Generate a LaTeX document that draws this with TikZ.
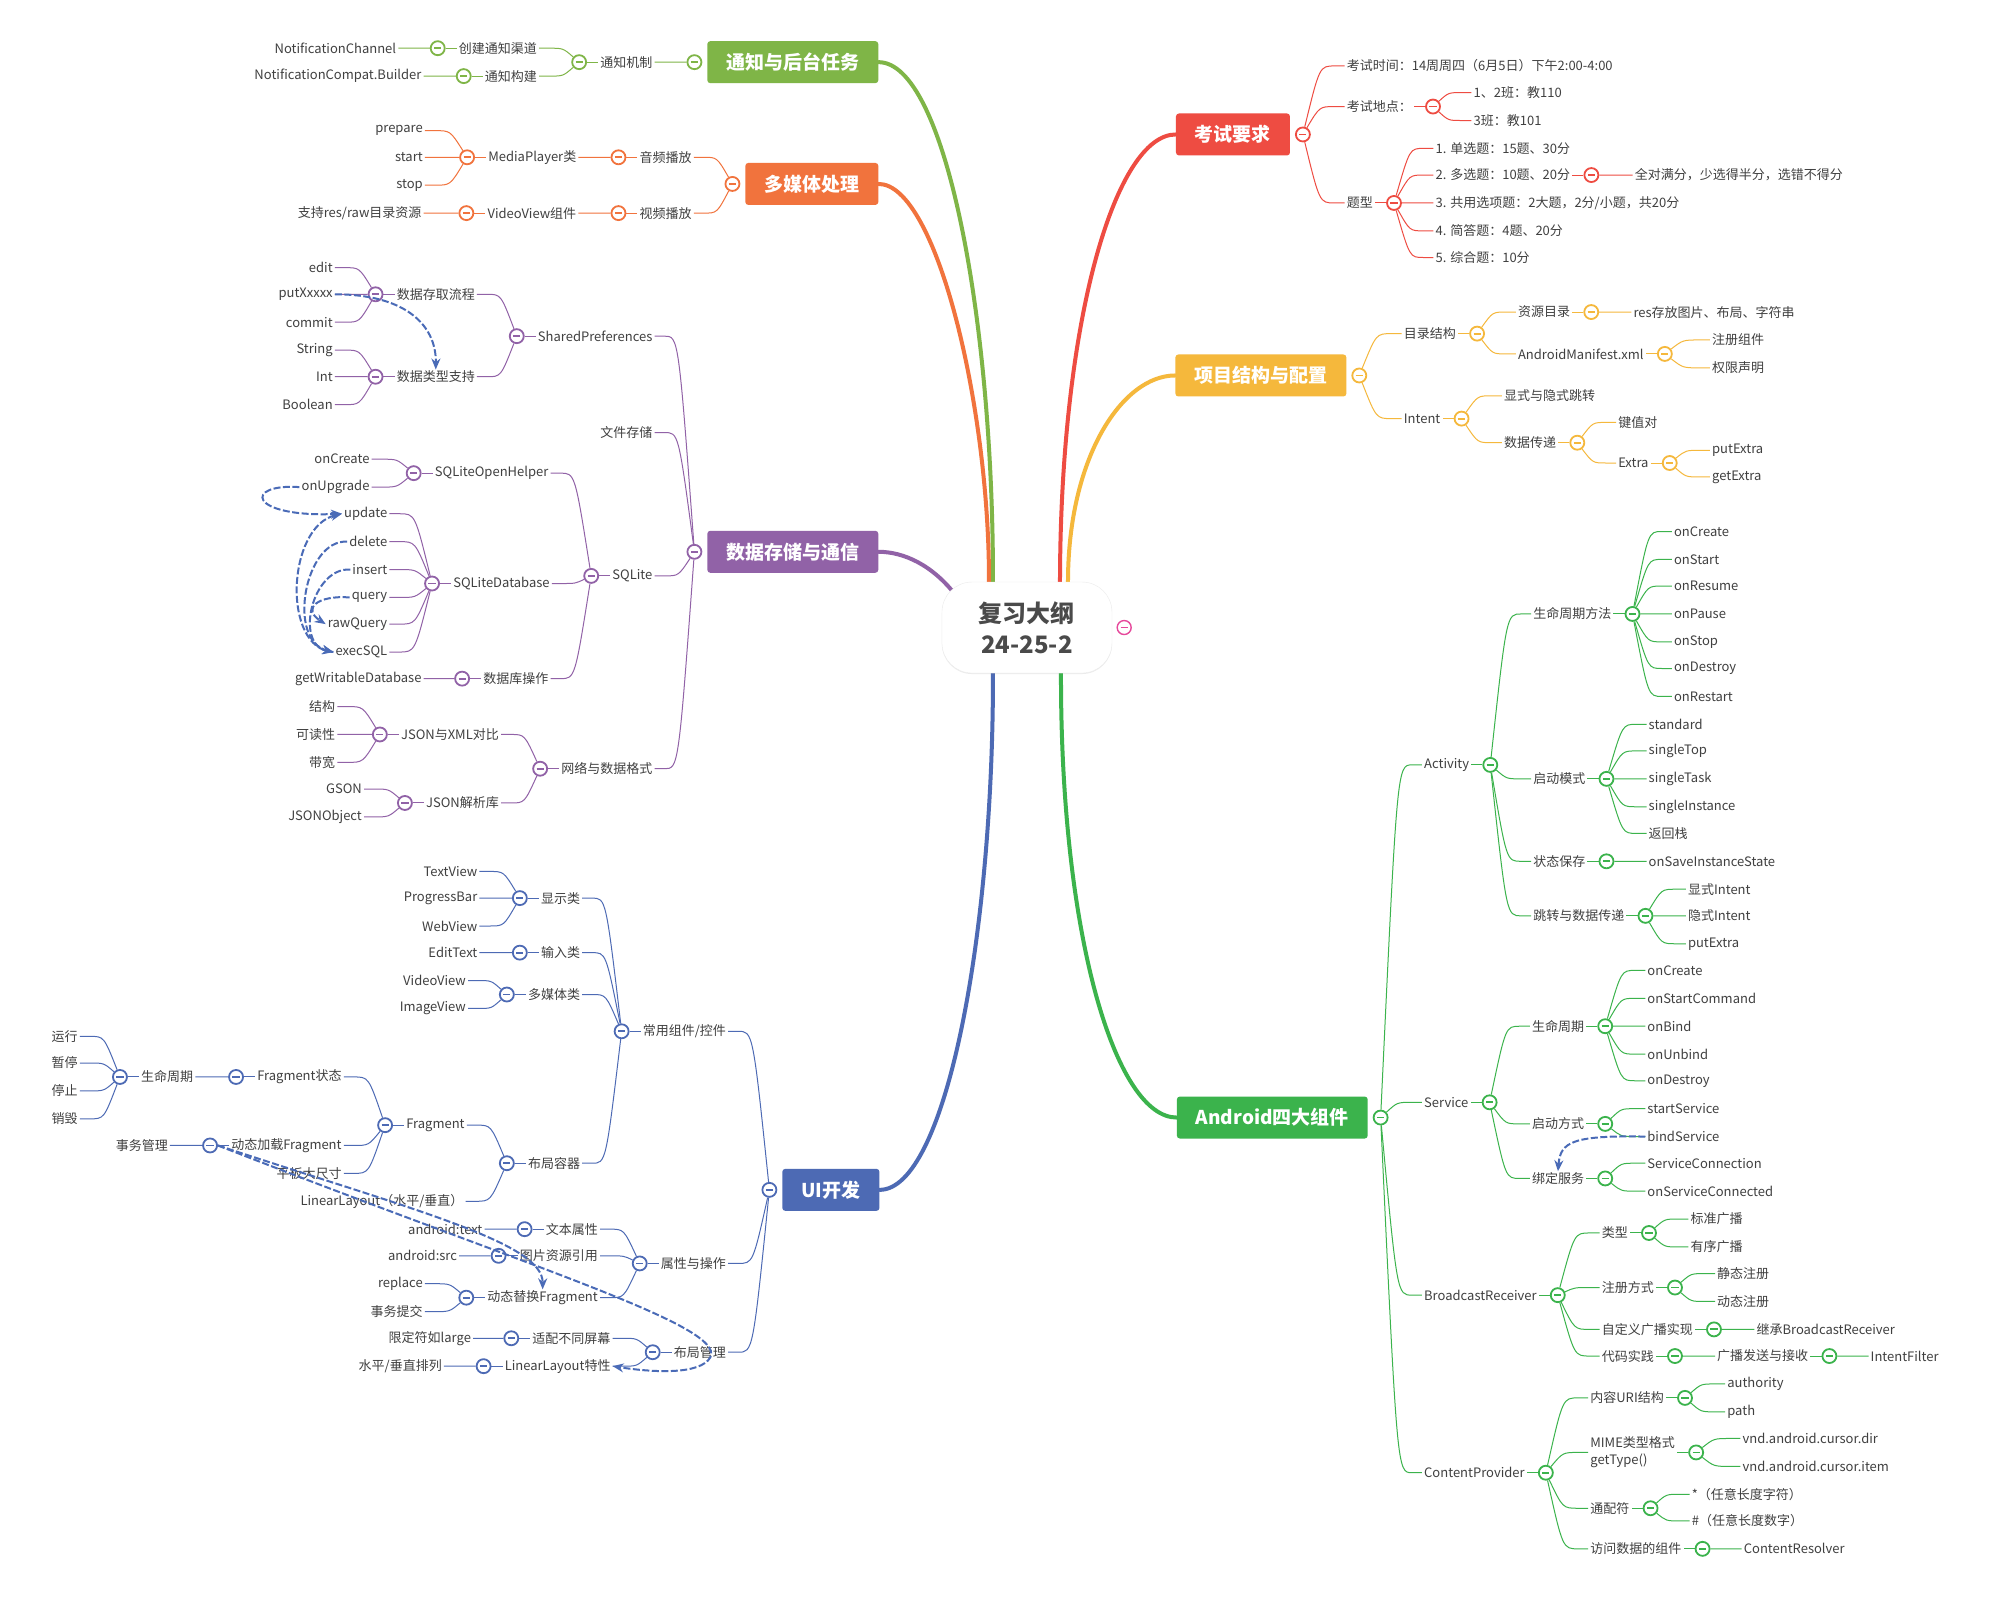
\documentclass[tikz,border=0pt]{standalone}
\usepackage{fontspec}
\setmainfont{Noto Sans CJK SC}
\usetikzlibrary{arrows.meta, backgrounds, shadows, calc}

\definecolor{colTexto}{HTML}{404040}
\definecolor{colCentro}{HTML}{4A4A4A}
\definecolor{colNotif}{HTML}{7FB547}
\definecolor{colMedia}{HTML}{F1733D}
\definecolor{colDatos}{HTML}{9162A7}
\definecolor{colUI}{HTML}{4D6AB4}
\definecolor{colExamen}{HTML}{EE4C42}
\definecolor{colProyecto}{HTML}{F5B83C}
\definecolor{colAndroid}{HTML}{3BB34C}
\definecolor{colRel}{HTML}{4A6BB7}
\definecolor{colRosa}{HTML}{E6489B}

\tikzset{
  hoja/.style={font=\fontsize{13}{17}\selectfont, text=colTexto,
    inner xsep=2pt, inner ysep=1pt},
  textoI/.style={hoja, anchor=east, align=right},
  textoD/.style={hoja, anchor=west, align=left},
  cajaTema/.style={rounded corners=3pt, minimum height=42pt, inner xsep=19pt,
    text=white, font=\fontsize{19}{21}\selectfont\bfseries},
  cajaCentro/.style={draw=black!8, fill=white, rounded corners=30pt,
    minimum width=170pt, minimum height=91pt, align=center, text=colCentro,
    font=\fontsize{24}{31}\selectfont\bfseries,
    drop shadow={shadow xshift=0pt, shadow yshift=-1pt, opacity=0.15}},
  boton/.style={circle, draw=#1, fill=white, line width=1.8pt,
    minimum size=14pt, inner sep=0pt,
    path picture={\draw[#1, line width=1.8pt]
      ([xshift=-3.6pt]path picture bounding box.center) --
      ([xshift=3.6pt]path picture bounding box.center);}},
  liga/.style={line width=1pt},
  troncal/.style={line width=4pt, line cap=round},
  flechaRel/.style={-{Stealth[length=11pt, width=9pt]}, line width=2pt,
    colRel, dash pattern=on 7pt off 2.5pt},
}

% ligas de un boton a un hijo (izquierda / derecha)
\newcommand{\ligaI}[3]{\scoped[on background layer]\draw[liga, #1] (#2)
  .. controls ($(#2 |- #3.east)!0.4!(#3.east)$) .. ([xshift=10pt]#3.east) -- (#3.east);}
\newcommand{\ligaD}[3]{\scoped[on background layer]\draw[liga, #1] (#2)
  .. controls ($(#2 |- #3.west)!0.4!(#3.west)$) .. ([xshift=-10pt]#3.west) -- (#3.west);}
% hoja: color, padre, nombre, x, y, texto
\newcommand{\hojaI}[6]{\node[textoI] (#3) at (#4,#5) {#6}; \ligaI{#1}{#2C}{#3}}
\newcommand{\hojaD}[6]{\node[textoD] (#3) at (#4,#5) {#6}; \ligaD{#1}{#2C}{#3}}
% rama: hoja con boton
\newcommand{\ramaI}[6]{\hojaI{#1}{#2}{#3}{#4}{#5}{#6}
  \node[boton=#1, xshift=-19pt] (#3C) at (#3.west) {};
  \scoped[on background layer]\draw[liga, #1] (#3C) -- (#3.west);}
\newcommand{\ramaD}[6]{\hojaD{#1}{#2}{#3}{#4}{#5}{#6}
  \node[boton=#1, xshift=19pt] (#3C) at (#3.east) {};
  \scoped[on background layer]\draw[liga, #1] (#3C) -- (#3.east);}

\begin{document}
\begin{tikzpicture}[x=1.2685pt, y=-1.2685pt]
  \useasboundingbox (0,0) rectangle (1568,1260);
  \scoped[on background layer]\fill[white] (0,0) rectangle (1568,1260);

  % centro
  \node[cajaCentro] (centro) at (809.6,494.7) {复习大纲\\24-25-2};
  \node[boton=colRosa, line width=1.4pt] (centroC) at ([xshift=12pt]centro.east) {};
  \coordinate (salidaDatos) at (754,470);

  % temas principales
  \node[cajaTema, fill=colNotif]    (notif)    at (625,49)  {通知与后台任务};
  \node[cajaTema, fill=colMedia]    (media)    at (640,145) {多媒体处理};
  \node[cajaTema, fill=colDatos]    (datos)    at (625,435) {数据存储与通信};
  \node[cajaTema, fill=colUI]       (ui)       at (655,938) {UI开发};
  \node[cajaTema, fill=colExamen]   (examen)   at (972,106) {考试要求};
  \node[cajaTema, fill=colProyecto] (proyecto) at (994,296) {项目结构与配置};
  \node[cajaTema, fill=colAndroid]  (android)  at (1003,881) {Android四大组件};

  \foreach \n/\col in {notif/colNotif, media/colMedia, datos/colDatos, ui/colUI}
    \node[boton=\col, xshift=-12.7pt] (\n C) at (\n.west) {};
  \foreach \n/\col in {examen/colExamen, proyecto/colProyecto, android/colAndroid}
    \node[boton=\col, xshift=12.7pt] (\n C) at (\n.east) {};

  \begin{scope}[on background layer]
    \draw[troncal, colNotif] ([xshift=-34pt]centro.north)
      .. controls (783,250) and (745,49) .. (notif.east);
    \draw[troncal, colMedia] ([xshift=-38pt]centro.north)
      .. controls (780,320) and (738,145) .. (media.east);
    \draw[troncal, colDatos] (salidaDatos)
      .. controls (735,445) and (712,435) .. (datos.east);
    \draw[troncal, colUI] ([xshift=-34pt]centro.south)
      .. controls (783,740) and (745,938) .. (ui.east);
    \draw[troncal, colExamen] ([xshift=33pt]centro.north)
      .. controls (836,250) and (880,106) .. (examen.west);
    \draw[troncal, colProyecto] ([xshift=41pt]centro.north)
      .. controls (842,360) and (885,296) .. (proyecto.west);
    \draw[troncal, colAndroid] ([xshift=34pt]centro.south)
      .. controls (836,740) and (880,881) .. (android.west);
  \end{scope}

  % ---- 通知与后台任务
  \ramaI{colNotif}{notif}{mec}{516}{49}{通知机制}
  \ramaI{colNotif}{mec}{canal}{425}{38}{创建通知渠道}
  \hojaI{colNotif}{canal}{canalK}{314}{38}{NotificationChannel}
  \ramaI{colNotif}{mec}{constr}{425}{60}{通知构建}
  \hojaI{colNotif}{constr}{constrK}{334}{60}{NotificationCompat.Builder}

  % ---- 多媒体处理
  \ramaI{colMedia}{media}{audio}{547}{124}{音频播放}
  \ramaI{colMedia}{audio}{player}{456}{124}{MediaPlayer类}
  \foreach \y/\t in {103/prepare, 124/start, 146/stop}
    {\hojaI{colMedia}{player}{player\y}{335}{\y}{\t}}
  \ramaI{colMedia}{media}{video}{547}{168}{视频播放}
  \ramaI{colMedia}{video}{vview}{456}{168}{VideoView组件}
  \hojaI{colMedia}{vview}{vviewK}{334}{168}{支持res/raw目录资源}

  % ---- 数据存储与通信
  \ramaI{colDatos}{datos}{shared}{516}{265}{SharedPreferences}
  \ramaI{colDatos}{shared}{flujo}{376}{232}{数据存取流程}
  \foreach \y/\t in {211/edit, 232/putXxxxx, 254/commit}
    {\hojaI{colDatos}{flujo}{flujo\y}{264}{\y}{\t}}
  \ramaI{colDatos}{shared}{tipos}{376}{297}{数据类型支持}
  \foreach \y/\t in {276/String, 297/Int, 319/Boolean}
    {\hojaI{colDatos}{tipos}{tipos\y}{264}{\y}{\t}}
  \hojaI{colDatos}{datos}{archivo}{516}{341}{文件存储}
  \ramaI{colDatos}{datos}{sqlite}{516}{454}{SQLite}
  \ramaI{colDatos}{sqlite}{helper}{434}{373}{SQLiteOpenHelper}
  \foreach \y/\t in {362/onCreate, 384/onUpgrade}
    {\hojaI{colDatos}{helper}{helper\y}{293}{\y}{\t}}
  \ramaI{colDatos}{sqlite}{sqldb}{435}{460}{SQLiteDatabase}
  \foreach \y/\t in {405/update, 427/delete, 449/insert, 471/query, 492/rawQuery, 514/execSQL}
    {\hojaI{colDatos}{sqldb}{sqldb\y}{307}{\y}{\t}}
  \ramaI{colDatos}{sqlite}{dbop}{434}{535}{数据库操作}
  \hojaI{colDatos}{dbop}{dbopK}{334}{535}{getWritableDatabase}
  \ramaI{colDatos}{datos}{redes}{516}{606}{网络与数据格式}
  \ramaI{colDatos}{redes}{jsonxml}{395}{579}{JSON与XML对比}
  \foreach \y/\t in {557/结构, 579/可读性, 601/带宽}
    {\hojaI{colDatos}{jsonxml}{jsonxml\y}{266}{\y}{\t}}
  \ramaI{colDatos}{redes}{jsonlib}{395}{633}{JSON解析库}
  \foreach \y/\t in {622/GSON, 644/JSONObject}
    {\hojaI{colDatos}{jsonlib}{jsonlib\y}{287}{\y}{\t}}

  % ---- UI开发
  \ramaI{colUI}{ui}{comp}{574}{813}{常用组件/控件}
  \ramaI{colUI}{comp}{mostrar}{459}{708}{显示类}
  \foreach \y/\t in {687/TextView, 708/ProgressBar, 730/WebView}
    {\hojaI{colUI}{mostrar}{mostrar\y}{378}{\y}{\t}}
  \ramaI{colUI}{comp}{entrada}{459}{751}{输入类}
  \hojaI{colUI}{entrada}{entradaK}{378}{751}{EditText}
  \ramaI{colUI}{comp}{multi}{459}{784}{多媒体类}
  \foreach \y/\t in {773/VideoView, 795/ImageView}
    {\hojaI{colUI}{multi}{multi\y}{369}{\y}{\t}}
  \ramaI{colUI}{comp}{contenedor}{459}{917}{布局容器}
  \ramaI{colUI}{contenedor}{frag}{368}{887}{Fragment}
  \ramaI{colUI}{frag}{fragEstado}{271}{849}{Fragment状态}
  \ramaI{colUI}{fragEstado}{cicloFrag}{154}{849}{生命周期}
  \foreach \y/\t in {817/运行, 838/暂停, 860/停止, 882/销毁}
    {\hojaI{colUI}{cicloFrag}{cicloFrag\y}{63}{\y}{\t}}
  \ramaI{colUI}{frag}{fragDin}{271}{903}{动态加载Fragment}
  \hojaI{colUI}{fragDin}{fragDinK}{134}{903}{事务管理}
  \hojaI{colUI}{frag}{tableta}{271}{925}{平板大尺寸}
  \hojaI{colUI}{contenedor}{linear}{367}{947}{LinearLayout（水平/垂直）}
  \ramaI{colUI}{ui}{attr}{574}{996}{属性与操作}
  \ramaI{colUI}{attr}{txtAttr}{473}{969}{文本属性}
  \hojaI{colUI}{txtAttr}{txtAttrK}{382}{969}{android:text}
  \ramaI{colUI}{attr}{imgRef}{473}{990}{图片资源引用}
  \hojaI{colUI}{imgRef}{imgRefK}{362}{990}{android:src}
  \ramaI{colUI}{attr}{reemplazo}{473}{1023}{动态替换Fragment}
  \foreach \y/\t in {1012/replace, 1034/事务提交}
    {\hojaI{colUI}{reemplazo}{reemplazo\y}{335}{\y}{\t}}
  \ramaI{colUI}{ui}{gestion}{574}{1066}{布局管理}
  \ramaI{colUI}{gestion}{pantallas}{483}{1055}{适配不同屏幕}
  \hojaI{colUI}{pantallas}{pantallasK}{373}{1055}{限定符如large}
  \ramaI{colUI}{gestion}{linearProp}{483}{1077}{LinearLayout特性}
  \hojaI{colUI}{linearProp}{linearPropK}{350}{1077}{水平/垂直排列}

  % ---- 考试要求
  \hojaD{colExamen}{examen}{tiempo}{1060}{52}{考试时间：14周周四（6月5日）下午2:00-4:00}
  \ramaD{colExamen}{examen}{lugar}{1060}{84}{考试地点：}
  \foreach \y/\t in {73/{1、2班：教110}, 95/{3班：教101}}
    {\hojaD{colExamen}{lugar}{lugar\y}{1160}{\y}{\t}}
  \ramaD{colExamen}{examen}{tipo}{1060}{160}{题型}
  \foreach \y/\t in {117/{1. 单选题：15题、30分}, 160/{3. 共用选项题：2大题，2分/小题，共20分},
                     182/{4. 简答题：4题、20分}, 203/{5. 综合题：10分}}
    {\hojaD{colExamen}{tipo}{tipo\y}{1130}{\y}{\t}}
  \ramaD{colExamen}{tipo}{multiple}{1130}{138}{2. 多选题：10题、20分}
  \hojaD{colExamen}{multiple}{multipleK}{1287}{138}{全对满分，少选得半分，选错不得分}

  % ---- 项目结构与配置
  \ramaD{colProyecto}{proyecto}{dir}{1105}{263}{目录结构}
  \ramaD{colProyecto}{dir}{recursos}{1195}{246}{资源目录}
  \hojaD{colProyecto}{recursos}{recursosK}{1286}{246}{res存放图片、布局、字符串}
  \ramaD{colProyecto}{dir}{manifest}{1195}{279}{AndroidManifest.xml}
  \foreach \y/\t in {268/注册组件, 290/权限声明}
    {\hojaD{colProyecto}{manifest}{manifest\y}{1348}{\y}{\t}}
  \ramaD{colProyecto}{proyecto}{intent}{1105}{330}{Intent}
  \hojaD{colProyecto}{intent}{salto}{1184}{312}{显式与隐式跳转}
  \ramaD{colProyecto}{intent}{paso}{1184}{349}{数据传递}
  \hojaD{colProyecto}{paso}{clave}{1274}{333}{键值对}
  \ramaD{colProyecto}{paso}{extra}{1274}{365}{Extra}
  \foreach \y/\t in {355/putExtra, 376/getExtra}
    {\hojaD{colProyecto}{extra}{extra\y}{1348}{\y}{\t}}

  % ---- Android四大组件
  \ramaD{colAndroid}{android}{activity}{1121}{603}{Activity}
  \ramaD{colAndroid}{activity}{cicloAct}{1207}{484}{生命周期方法}
  \foreach \y/\t in {419/onCreate, 441/onStart, 462/onResume, 484/onPause,
                     506/onStop, 527/onDestroy, 549/onRestart}
    {\hojaD{colAndroid}{cicloAct}{cicloAct\y}{1318}{\y}{\t}}
  \ramaD{colAndroid}{activity}{modo}{1207}{614}{启动模式}
  \foreach \y/\t in {571/standard, 592/singleTop, 614/singleTask, 636/singleInstance, 657/返回栈}
    {\hojaD{colAndroid}{modo}{modo\y}{1298}{\y}{\t}}
  \ramaD{colAndroid}{activity}{estado}{1207}{679}{状态保存}
  \hojaD{colAndroid}{estado}{estadoK}{1298}{679}{onSaveInstanceState}
  \ramaD{colAndroid}{activity}{saltoAct}{1207}{722}{跳转与数据传递}
  \foreach \y/\t in {701/显式Intent, 722/隐式Intent, 744/putExtra}
    {\hojaD{colAndroid}{saltoAct}{saltoAct\y}{1329}{\y}{\t}}
  \ramaD{colAndroid}{android}{service}{1121}{869}{Service}
  \ramaD{colAndroid}{service}{cicloServ}{1206}{809}{生命周期}
  \foreach \y/\t in {765/onCreate, 787/onStartCommand, 809/onBind, 831/onUnbind, 852/onDestroy}
    {\hojaD{colAndroid}{cicloServ}{cicloServ\y}{1297}{\y}{\t}}
  \ramaD{colAndroid}{service}{arranque}{1206}{886}{启动方式}
  \foreach \y/\t in {874/startService, 896/bindService}
    {\hojaD{colAndroid}{arranque}{arranque\y}{1297}{\y}{\t}}
  \ramaD{colAndroid}{service}{enlace}{1206}{929}{绑定服务}
  \foreach \y/\t in {917/ServiceConnection, 939/onServiceConnected}
    {\hojaD{colAndroid}{enlace}{enlace\y}{1297}{\y}{\t}}
  \ramaD{colAndroid}{android}{broadcast}{1121}{1021}{BroadcastReceiver}
  \ramaD{colAndroid}{broadcast}{tipoBr}{1261}{972}{类型}
  \foreach \y/\t in {961/标准广播, 983/有序广播}
    {\hojaD{colAndroid}{tipoBr}{tipoBr\y}{1331}{\y}{\t}}
  \ramaD{colAndroid}{broadcast}{registro}{1261}{1015}{注册方式}
  \foreach \y/\t in {1004/静态注册, 1026/动态注册}
    {\hojaD{colAndroid}{registro}{registro\y}{1352}{\y}{\t}}
  \ramaD{colAndroid}{broadcast}{propio}{1261}{1048}{自定义广播实现}
  \hojaD{colAndroid}{propio}{propioK}{1383}{1048}{继承BroadcastReceiver}
  \ramaD{colAndroid}{broadcast}{codigo}{1261}{1069}{代码实践}
  \ramaD{colAndroid}{codigo}{envio}{1352}{1069}{广播发送与接收}
  \hojaD{colAndroid}{envio}{envioK}{1473}{1069}{IntentFilter}
  \ramaD{colAndroid}{android}{provider}{1121}{1161}{ContentProvider}
  \ramaD{colAndroid}{provider}{uri}{1252}{1102}{内容URI结构}
  \foreach \y/\t in {1091/authority, 1113/path}
    {\hojaD{colAndroid}{uri}{uri\y}{1360}{\y}{\t}}
  \ramaD{colAndroid}{provider}{mime}{1252}{1145}{MIME类型格式\\getType()}
  \foreach \y/\t in {1134/vnd.android.cursor.dir, 1156/vnd.android.cursor.item}
    {\hojaD{colAndroid}{mime}{mime\y}{1372}{\y}{\t}}
  \ramaD{colAndroid}{provider}{comodin}{1252}{1189}{通配符}
  \foreach \y/\t in {1178/{*（任意长度字符）}, 1199/{\#（任意长度数字）}}
    {\hojaD{colAndroid}{comodin}{comodin\y}{1332}{\y}{\t}}
  \ramaD{colAndroid}{provider}{acceso}{1252}{1221}{访问数据的组件}
  \hojaD{colAndroid}{acceso}{accesoK}{1373}{1221}{ContentResolver}

  % relaciones
  \draw[flechaRel] (flujo232.east) .. controls (318,232) and (344,255) .. (tipos.north);
  \draw[flechaRel] (helper384.west) .. controls (192,381) and (195,408) .. (sqldb405.west);
  \draw[flechaRel] (sqldb427.west) .. controls (240,425) and (226,505) .. (sqldb514.west);
  \draw[flechaRel] (sqldb449.west) .. controls (246,447) and (232,508) .. (sqldb514.west);
  \draw[flechaRel] (sqldb471.west) .. controls (250,469) and (238,480) .. (sqldb492.west);
  \draw[flechaRel] (sqldb514.west) .. controls (222,512) and (226,415) .. (sqldb405.west);
  \draw[flechaRel] (arranque896.west) .. controls (1240,895) and (1230,900) .. (enlace.north);
  \draw[flechaRel] (fragDinC.east) .. controls (330,955) and (428,980) .. (reemplazo.north);
  \draw[flechaRel] (fragDinC.east) .. controls (420,1000) and (572,1045) .. (560,1070)
    .. controls (552,1084) and (515,1082) .. (linearProp.east);
\end{tikzpicture}
\end{document}
